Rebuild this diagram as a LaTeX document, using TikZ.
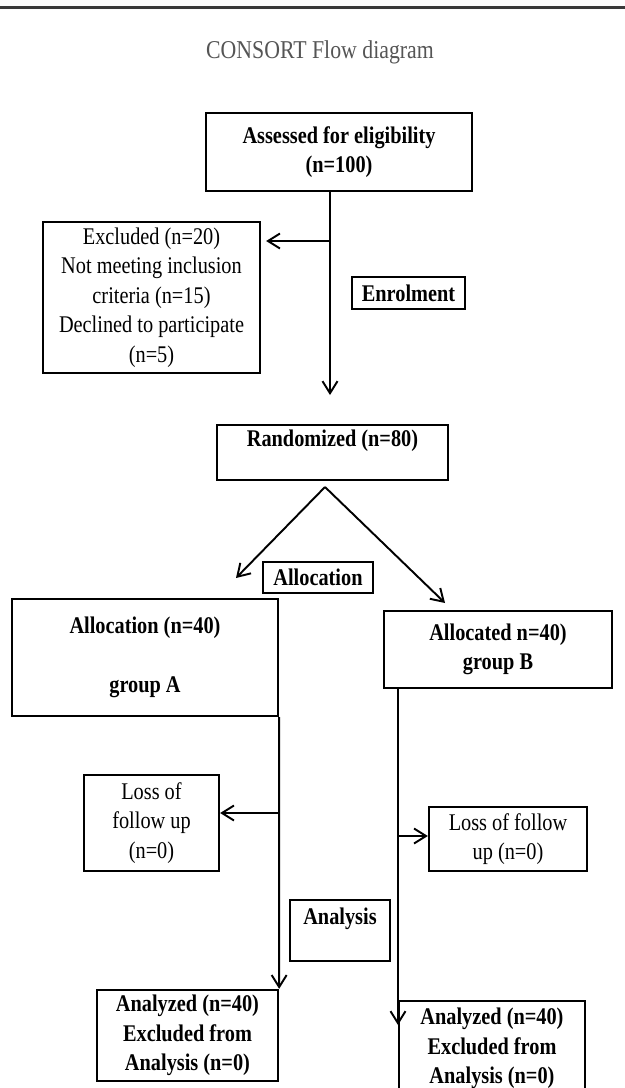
\documentclass[tikz,border=0pt]{standalone}
\usepackage{fontspec}
\setmainfont[FakeStretch=0.85]{Liberation Serif}
\usetikzlibrary{arrows.meta}
\newcommand{\boxsize}{\fontsize{13.6}{16.8}\selectfont}
\definecolor{rulegray}{HTML}{3A3A3A}
\definecolor{titlegray}{HTML}{555555}
\begin{document}
\begin{tikzpicture}[>={Straight Barb[length=2.4mm,width=3mm]},
    box/.style={draw, line width=1.3pt, inner sep=1pt, align=center, font=\boxsize\bfseries},
    plainbox/.style={box, font=\boxsize},
    arr/.style={->, line width=1.1pt}]
	  \useasboundingbox (0,0) rectangle (12.5,-21.76);
	  \draw[rulegray, line width=0.06cm] (0,-0.15) -- (12.5,-0.15);
	  \node[text=titlegray, font=\fontsize{14.6}{17}\selectfont] (title) at (6.40,-1.05) {CONSORT Flow diagram};
	  \node[box, minimum width=5.32cm, minimum height=1.56cm] (elig) at (6.78,-3.04) {Assessed for eligibility\\(n=100)};
	  \node[plainbox, minimum width=4.34cm, minimum height=3.02cm] (excl) at (3.03,-5.95) {Excluded (n=20)\\Not meeting inclusion\\criteria (n=15)\\Declined to participate\\(n=5)};
	  \node[box, minimum width=2.26cm, minimum height=0.64cm] (enrol) at (8.17,-5.86) {Enrolment};
	  \node[box, minimum width=4.62cm, minimum height=1.10cm] (rand) at (6.65,-9.05) {Randomized (n=80)\\\mbox{}};
	  \node[box, minimum width=2.20cm, minimum height=0.62cm] (alloc) at (6.36,-11.55) {Allocation};
	  \node[box, minimum width=5.32cm, minimum height=2.34cm] (grpA) at (2.90,-13.15) {Allocation (n=40)\\\mbox{}\\group A};
	  \node[box, minimum width=4.56cm, minimum height=1.54cm] (grpB) at (9.96,-12.99) {Allocated n=40)\\group B};
	  \node[plainbox, minimum width=2.70cm, minimum height=1.92cm] (lossA) at (3.03,-16.46) {Loss of\\follow up\\(n=0)};
	  \node[plainbox, minimum width=3.16cm, minimum height=1.28cm] (lossB) at (10.16,-16.78) {Loss of follow\\up (n=0)};
	  \node[box, minimum width=2.00cm, minimum height=1.22cm] (anal) at (6.80,-18.61) {Analysis\\\mbox{}};
	  \node[box, minimum width=3.62cm, minimum height=1.82cm] (anA) at (3.75,-20.71) {Analyzed (n=40)\\Excluded from\\Analysis (n=0)};
	  \node[box, minimum width=3.72cm, minimum height=1.90cm, anchor=north] (anB) at (9.84,-20.00) {Analyzed (n=40)\\Excluded from\\Analysis (n=0)};
	  \coordinate (j1) at (6.60,-4.82);
	  \coordinate (enrtip) at (6.60,-7.90);
	  \coordinate (apex) at (6.50,-9.74);
	  \coordinate (tipA) at (4.72,-11.56);
	  \coordinate (tipB) at (8.90,-12.06);
	  \coordinate (jA) at (5.56,-16.26);
	  \coordinate (bTop) at (7.96,-13.76);
	  \coordinate (bTip) at (7.96,-20.50);
	  \coordinate (jB) at (7.96,-16.72);
	  \draw[arr] (elig.south -| enrtip) -- (enrtip);
	  \draw[arr, shorten >=0.1cm] (j1) -- (j1 -| excl.east);
	  \draw[arr] (apex) -- (tipA);
	  \draw[arr] (apex) -- (tipB);
	  \draw[arr] (grpA.south east) -- (anA.north east);
	  \draw[arr] (jA) -- (jA -| lossA.east);
	  \draw[arr] (bTop) -- (bTip);
	  \draw[arr] (jB) -- (jB -| lossB.west);
	\end{tikzpicture}
\end{document}
